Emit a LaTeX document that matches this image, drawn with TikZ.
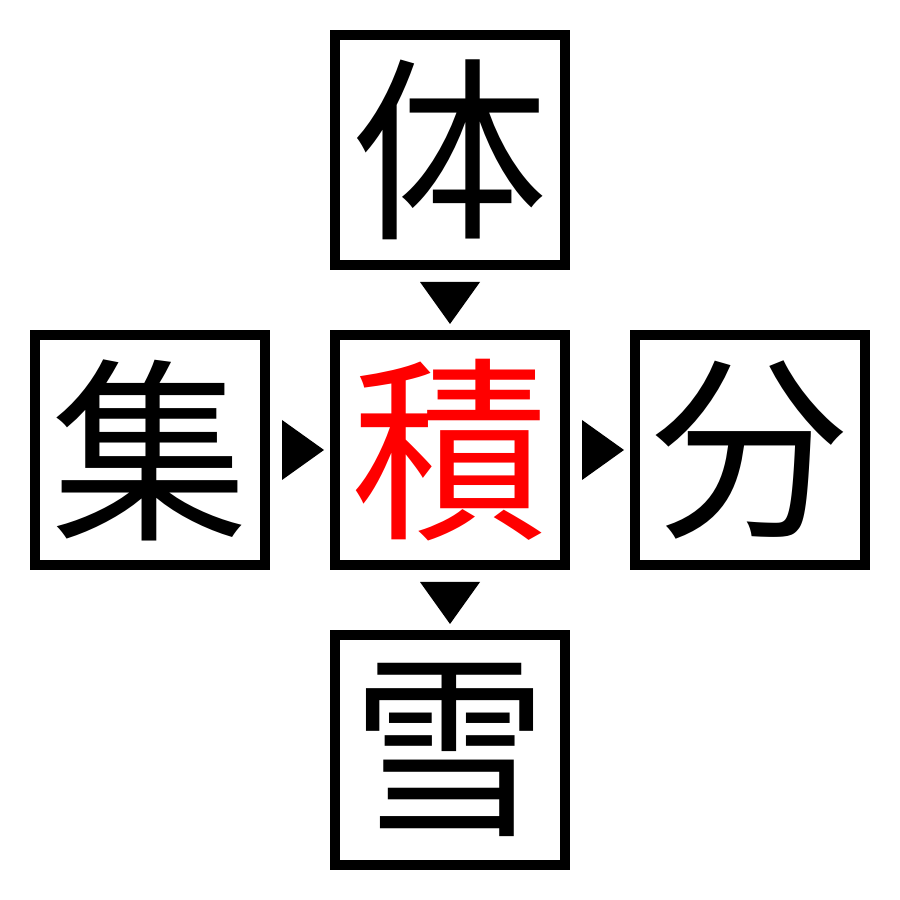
\documentclass[tikz,border=0pt]{standalone}
\usepackage{xcolor}
\usepackage{fontspec}
\newfontfamily\jpfont{Noto Sans CJK JP}
\usetikzlibrary{positioning,calc}

\tikzset{
  caja/.style={draw,line width=0.1cm,minimum size=2.3cm,inner sep=0pt,outer sep=0pt,
    font=\jpfont\fontsize{56}{56}\selectfont},
  flecha/.style={fill=black}
}

\begin{document}
\begin{tikzpicture}
        % Paso 1: Fija el marco de la figura
        \useasboundingbox (0,0) rectangle (9,9);

        % Paso 2: Coloca las cinco cajas con sus kanji
        \node[caja,text=red] (seki) at (4.5,4.5) {積}; % centro
        \node[caja,above=0.7cm of seki] (ti) {体};
        \node[caja,left=0.7cm of seki] (shu) {集};
        \node[caja,right=0.7cm of seki] (bun) {分};
        \node[caja,below=0.7cm of seki] (setsu) {雪};

        % Paso 3: Dibuja los triangulos entre cajas
        \fill[flecha] ($(ti.south)+(-0.3,-0.17)$) -- ($(ti.south)+(0.3,-0.17)$) -- ($(ti.south)+(0,-0.59)$) -- cycle;
        \fill[flecha] ($(seki.south)+(-0.3,-0.17)$) -- ($(seki.south)+(0.3,-0.17)$) -- ($(seki.south)+(0,-0.59)$) -- cycle;
        \fill[flecha] ($(shu.east)+(0.17,0.3)$) -- ($(shu.east)+(0.17,-0.3)$) -- ($(shu.east)+(0.59,0)$) -- cycle;
        \fill[flecha] ($(seki.east)+(0.17,0.3)$) -- ($(seki.east)+(0.17,-0.3)$) -- ($(seki.east)+(0.59,0)$) -- cycle;
\end{tikzpicture}
\end{document}
